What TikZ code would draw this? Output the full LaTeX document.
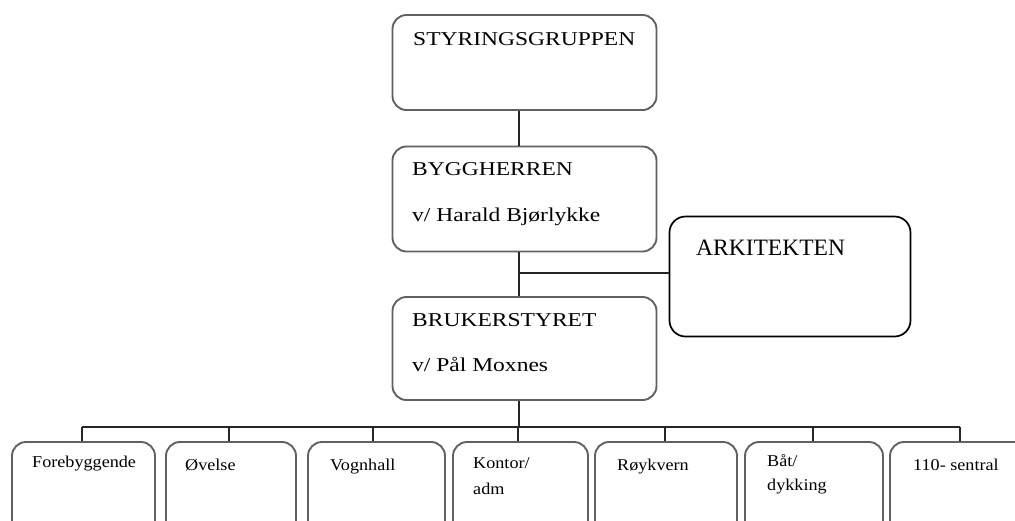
\documentclass[tikz,border=0pt]{standalone}
\usepackage{fontspec}
\setmainfont{Liberation Serif}
\newfontfamily\hfont[FakeStretch=1.2]{Liberation Serif}
\newfontfamily\sfontb[FakeStretch=1.1]{Liberation Serif}
\newfontfamily\afont{Liberation Serif}
\begin{document}
\begin{tikzpicture}[x=1pt,y=-1pt,
  graybox/.style={draw=black!62, line width=1.9pt, rounded corners=14pt, fill=white, inner sep=0pt},
  blackbox/.style={draw=black, line width=1.7pt, rounded corners=16pt, fill=white, inner sep=0pt},
  conn/.style={draw=black!85, line width=1.5pt},
  htext/.style={anchor=base west, inner sep=0pt, font=\hfont\fontsize{19.6}{22}\selectfont, text=black},
  atext/.style={anchor=base west, inner sep=0pt, font=\afont\fontsize{23.5}{26}\selectfont, text=black},
  stext/.style={anchor=base west, inner sep=0pt, font=\sfontb\fontsize{16.5}{19}\selectfont, text=black},
]
\useasboundingbox (0,0) rectangle (1015,520);
\clip (0,0) rectangle (1015,520);
\fill[white] (0,0) rectangle (1015,520);

% spine coordinates
\coordinate (spine) at (519,0);
\coordinate (tee) at (519,273);
\coordinate (bus) at (0,427);
\coordinate (busL) at (82,427);
\coordinate (busR) at (960,427);

% main boxes
\node[graybox, minimum width=264pt, minimum height=95pt] (sty) at (524.5,62.5) {};
\node[graybox, minimum width=264pt, minimum height=105pt] (byg) at (524.5,199) {};
\node[graybox, minimum width=264pt, minimum height=103pt] (bru) at (524.5,348.5) {};
\node[blackbox, minimum width=241pt, minimum height=120pt] (ark) at (790,276.5) {};

% bottom boxes
\node[graybox, minimum width=143pt, minimum height=140pt] (b1) at (83.5,512) {};
\node[graybox, minimum width=130pt, minimum height=140pt] (b2) at (231,512) {};
\node[graybox, minimum width=137pt, minimum height=140pt] (b3) at (376.5,512) {};
\node[graybox, minimum width=135pt, minimum height=140pt] (b4) at (520.5,512) {};
\node[graybox, minimum width=142pt, minimum height=140pt] (b5) at (666,512) {};
\node[graybox, minimum width=138pt, minimum height=140pt] (b6) at (814,512) {};
\node[graybox, minimum width=140pt, minimum height=140pt] (b7) at (960,512) {};

% texts
\node[htext] (tsty) at (413,45) {STYRINGSGRUPPEN};
\node[htext] (tbyg) at (412,175) {BYGGHERREN};
\node[htext] (tbyg2) at (412,221) {v/ Harald Bjørlykke};
\node[htext] (tbru) at (412,326) {BRUKERSTYRET};
\node[htext] (tbru2) at (412,371) {v/ Pål Moxnes};
\node[atext] (tark) at (696,255) {ARKITEKTEN};

\node[stext] (t1) at (32,467) {Forebyggende};
\node[stext] (t2) at (185,470) {Øvelse};
\node[stext] (t3) at (330,470) {Vognhall};
\node[stext] (t4a) at (473,468) {Kontor/};
\node[stext] (t4b) at (473,494) {adm};
\node[stext] (t5) at (617,470) {Røykvern};
\node[stext] (t6a) at (767,466) {Båt/};
\node[stext] (t6b) at (767,490) {dykking};
\node[stext] (t7) at (913,470) {110- sentral};

% connectors
\draw[conn] (spine |- sty.south) -- (spine |- byg.north);
\draw[conn] (spine |- byg.south) -- (spine |- bru.north);
\draw[conn] (tee) -- (tee -| ark.west);
\draw[conn] (spine |- bru.south) -- (spine |- bus);
\draw[conn] (busL) -- (busR);
\draw[conn] (b1.north -| busL) -- (busL);
\draw[conn] (b2.north -| 229,0) -- (229,427);
\draw[conn] (b3.north -| 373,0) -- (373,427);
\draw[conn] (b4.north -| 518,0) -- (518,427);
\draw[conn] (b5.north -| 665,0) -- (665,427);
\draw[conn] (b6.north -| 813,0) -- (813,427);
\draw[conn] (b7.north -| busR) -- (busR);
\end{tikzpicture}
\end{document}
